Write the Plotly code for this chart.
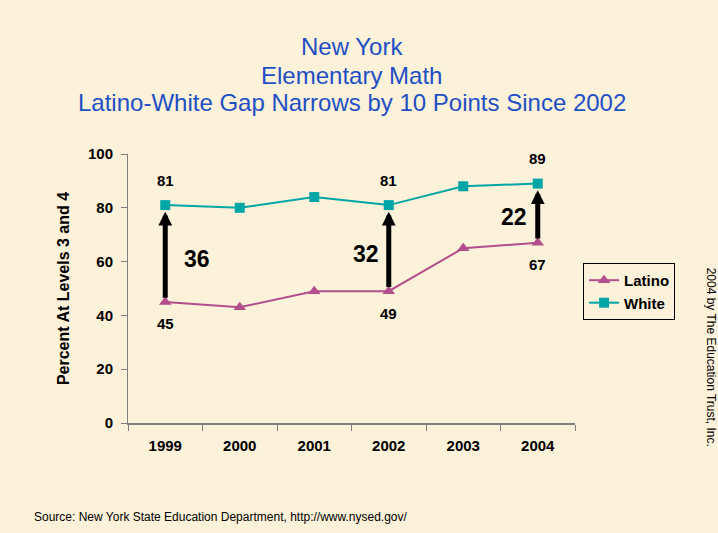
import plotly.graph_objects as go

years = ["1999", "2000", "2001", "2002", "2003", "2004"]
latino = [45, 43, 49, 49, 65, 67]
white = [81, 80, 84, 81, 88, 89]
gap_years = ["1999", "2002", "2004"]
gap_labels = ["36", "32", "22"]
y_ticks = [0, 20, 40, 60, 80, 100]
title_lines = ["New York", "Elementary Math", "Latino-White Gap Narrows by 10 Points Since 2002"]

LAT_C = "#B24E8C"
WHT_C = "#00A6A6"
BG = "#FCF1D9"
TITLE_C = "#1F4FC4"
FONT = "Liberation Sans"

fig = go.Figure()
fig.add_trace(go.Scatter(x=years, y=latino, name="Latino", mode="lines+markers",
                         line=dict(color=LAT_C, width=2),
                         marker=dict(symbol="triangle-up", size=11, color=LAT_C)))
fig.add_trace(go.Scatter(x=years, y=white, name="White", mode="lines+markers",
                         line=dict(color=WHT_C, width=2),
                         marker=dict(symbol="square", size=10, color=WHT_C)))

ann = []
idx = {y: i for i, y in enumerate(years)}
gap_text_offsets = [(0.42, -2.0), (-0.3, -2.0), (-0.32, -1.5)]
bold = lambda s: dict(size=s, color="black", family=FONT, weight="bold")
for gy, gl, off in zip(gap_years, gap_labels, gap_text_offsets):
    i = idx[gy]
    lo, hi = latino[i], white[i]
    ann.append(dict(x=i, y=hi - 2.5, ax=i, ay=lo + 1, xref="x", yref="y", axref="x", ayref="y",
                    showarrow=True, arrowhead=2, arrowsize=0.55, arrowwidth=5, arrowcolor="black", text=""))
    ann.append(dict(x=i, y=hi, xref="x", yref="y", text=str(hi), showarrow=False,
                    yshift=25, font=bold(15)))
    ann.append(dict(x=i, y=lo, xref="x", yref="y", text=str(lo), showarrow=False,
                    yshift=-22, font=bold(15)))
    ann.append(dict(x=i + off[0], y=(lo + hi) / 2 + off[1], xref="x", yref="y", text=gl,
                    showarrow=False, font=bold(23)))

for k, line in enumerate(title_lines):
    ann.append(dict(x=0.5, y=1 - (47 + 28 * k) / 533, xref="paper", yref="paper", yanchor="middle",
                    xanchor="center", text=line, showarrow=False,
                    font=dict(size=24, color=TITLE_C, family=FONT)))
# convert paper y for title lines (container -> plot paper coords)
for a in ann[-3:]:
    py = (1 - a["y"]) * 533  # pixel from top
    a["y"] = (423 - py) / 269

ann.append(dict(x=-0.215, y=-0.35, xref="paper", yref="paper", xanchor="left", yanchor="middle",
                text="Source: New York State Education Department, http://www.nysed.gov/",
                showarrow=False, font=dict(size=12, color="black", family=FONT)))
ann.append(dict(x=1.303, y=0.245, xref="paper", yref="paper", xanchor="center", yanchor="middle",
                text="2004 by The Education Trust, Inc.", textangle=90,
                showarrow=False, font=dict(size=12, color="black", family=FONT)))

fig.update_layout(
    width=718, height=533,
    paper_bgcolor=BG, plot_bgcolor=BG,
    margin=dict(l=128, r=143, t=154, b=110),
    showlegend=True,
    legend=dict(x=1.018, y=0.595, xanchor="left", yanchor="top",
                bordercolor="black", borderwidth=1, bgcolor="rgba(0,0,0,0)",
                font=bold(15), itemwidth=30, tracegroupgap=0),
    annotations=ann,
    xaxis=dict(type="category", range=[-0.5, 5.5], showgrid=False, showline=True,
               linecolor="#7f7f7f", linewidth=2, ticks="outside", tickson="boundaries",
               ticklen=6, tickcolor="#7f7f7f", tickwidth=1, ticklabelstandoff=8,
               tickfont=bold(15)),
    yaxis=dict(range=[0, 100], tickvals=y_ticks, showgrid=False, showline=True, zeroline=False,
               linecolor="#7f7f7f", linewidth=1, ticks="outside", ticklen=6, tickcolor="#7f7f7f",
               tickfont=bold(15), ticklabelstandoff=5,
               title=dict(text="Percent At Levels 3 and 4", standoff=14, font=bold(16))),
)

fig.write_html("out.html", config={"displayModeBar": False},
               post_script="document.body.style.margin='0';")
